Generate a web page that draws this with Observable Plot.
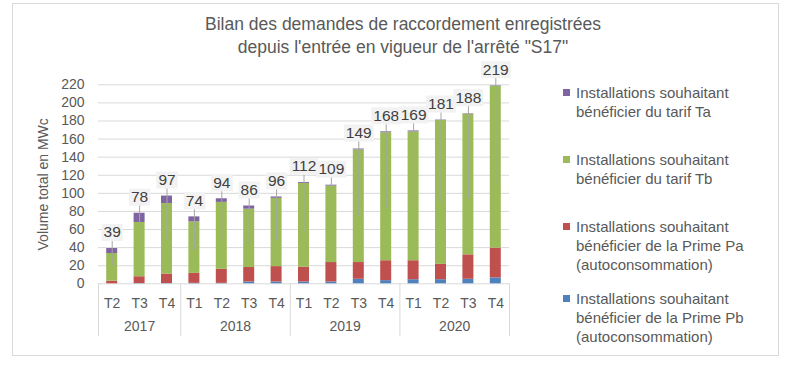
<!DOCTYPE html>
<html><head><meta charset="utf-8">
<script src="https://cdn.jsdelivr.net/npm/d3@7"></script>
<script src="https://cdn.jsdelivr.net/npm/@observablehq/plot@0.6"></script>
<style>
body{margin:0;background:#fff;font-family:"Liberation Sans",Arial,sans-serif;}
#wrap{position:relative;width:796px;height:365px;overflow:hidden;}
#border{position:absolute;left:12px;top:3px;width:765px;height:351px;border:1px solid #d9d9d9;}
#chart{position:absolute;left:0;top:0;}
#title{position:absolute;left:0;width:806px;top:13px;text-align:center;font-size:17.5px;line-height:23px;color:#595959;}
.leg{position:absolute;left:563px;font-size:15px;line-height:19px;color:#595959;white-space:nowrap;}
.leg .sw{position:absolute;left:0;top:6px;width:7px;height:7px;}
.leg .tx{margin-left:13px;}
</style></head>
<body>
<div id="wrap">
  <div id="border"></div>
  <div id="chart"></div>
  <div id="title">Bilan des demandes de raccordement enregistrées<br>depuis l'entrée en vigueur de l'arrêté "S17"</div>
  <div id="legend"></div>
</div>
<script>
// ---- data ----
const quarters = ["T2","T3","T4","T1","T2","T3","T4","T1","T2","T3","T4","T1","T2","T3","T4"];
const barYears = ["2017","2017","2017","2018","2018","2018","2018","2019","2019","2019","2019","2020","2020","2020","2020"];
const years = ["2017","2018","2019","2020"];
const totals = [39,78,97,74,94,86,96,112,109,149,168,169,181,188,219];
const primePb = [0,0.3,0.3,0.5,0.5,2,2,2,2,5,3.5,4.5,4.5,5,6.5];
const primePa = [3,7.5,10.5,11,15.5,16,17,16.5,21.5,18.5,22,21,17,27,33];
const tarifTb = [30.5,60,78,57,74,64.5,75.5,92.5,84.5,124.5,141.5,142.5,159,155.5,179];
const tarifTa = [5.5,10.2,8.2,5.5,4,3.5,1.5,1,1,1,1,1,0.5,0.5,0.5];
const yTicks = [0,20,40,60,80,100,120,140,160,180,200,220];
const yTitle = "Volume total en MWc";
const seriesKeys = ["Pb","Pa","Tb","Ta"]; // bottom to top
const seriesColors = ["#4f81bd","#c0504d","#9bbb59","#8064a2"];
const legendItems = [
  {key:"Ta", lines:["Installations souhaitant","bénéficier du tarif Ta"]},
  {key:"Tb", lines:["Installations souhaitant","bénéficier du tarif Tb"]},
  {key:"Pa", lines:["Installations souhaitant","bénéficier de la Prime Pa","(autoconsommation)"]},
  {key:"Pb", lines:["Installations souhaitant","bénéficier de la Prime Pb","(autoconsommation)"]}
];

// ---- tables ----
const seriesValues = {Pb: primePb, Pa: primePa, Tb: tarifTb, Ta: tarifTa};
const rows = [];
quarters.forEach((q, i) => {
  let acc = 0;
  for (const k of seriesKeys) {
    const v = seriesValues[k][i];
    rows.push({i, series: k, y1: acc, y2: acc + v});
    acc += v;
  }
});
const bars = totals.map((t, i) => ({i, total: t}));
const idx = quarters.map((q, i) => i);
const yearRows = years.map(y => {
  const ii = idx.filter(i => barYears[i] === y);
  return {year: y, mid: (ii[0] + ii[ii.length - 1]) / 2, start: ii[0] - 0.5, end: ii[ii.length - 1] + 0.5};
});
const bounds = [yearRows[0].start, ...yearRows.map(d => d.end)];

const FONT = '"Liberation Sans", Arial, sans-serif';
const chart = Plot.plot({
  width: 796, height: 365,
  marginLeft: 98, marginRight: 287, marginTop: 84.3, marginBottom: 81.7,
  style: {fontFamily: FONT, fontSize: "14px", color: "#595959", background: "transparent", overflow: "visible"},
  x: {type: "linear", domain: [-0.5, 14.5], ticks: idx, tickFormat: i => quarters[i], tickSize: 0, tickPadding: 14, label: null},
  y: {domain: [0, 220], ticks: yTicks, tickSize: 0, tickPadding: 14, label: yTitle, labelAnchor: "center", labelOffset: 60, labelArrow: "none"},
  color: {domain: seriesKeys, range: seriesColors},
  marks: [
    Plot.ruleY(yTicks, {stroke: "#d9d9d9", strokeWidth: 1}),
    Plot.ruleX(bounds, {x: d => d, y1: 0, y2: 0, insetBottom: -53, stroke: "#d9d9d9"}),
    Plot.rect(rows, {x1: d => d.i - 0.5, x2: d => d.i + 0.5, y1: "y1", y2: "y2", fill: "series", insetLeft: 8.2, insetRight: 8.2}),
    Plot.ruleX(bars, {x: "i", y1: "total", y2: d => d.total / 2, insetTop: -8, stroke: "#a6a6a6", strokeWidth: 1}),
    Plot.text(bars, {x: "i", y: "total", text: d => String(d.total), dy: -16, fontSize: 15.5, fill: "#404040"}),
    Plot.text(yearRows, {x: "mid", frameAnchor: "bottom", text: "year", dy: 47, fontSize: 14, fill: "#595959"})
  ]
});
document.getElementById("chart").appendChild(chart);

// label boxes behind the data labels
const textGroups = chart.querySelectorAll('g[aria-label="text"]');
if (textGroups.length) {
  const g = textGroups[0];
  g.querySelectorAll("text").forEach(t => {
    const b = t.getBBox();
    const r = document.createElementNS("http://www.w3.org/2000/svg", "rect");
    const cy = b.y + b.height / 2 + 0.5;
    r.setAttribute("x", b.x - 2);
    r.setAttribute("width", b.width + 4);
    r.setAttribute("y", cy - 8.5);
    r.setAttribute("height", 17);
    r.setAttribute("fill", "#f2f2f2");
    if (t.getAttribute("transform")) r.setAttribute("transform", t.getAttribute("transform"));
    g.insertBefore(r, t);
  });
}

// legend
const colorOf = Object.fromEntries(seriesKeys.map((k, i) => [k, seriesColors[i]]));
const legTops = [82.5, 149.5, 216.5, 288.5];
const leg = document.getElementById("legend");
legendItems.forEach((it, j) => {
  const d = document.createElement("div");
  d.className = "leg";
  d.style.top = legTops[j] + "px";
  d.innerHTML = `<span class="sw" style="background:${colorOf[it.key]}"></span><div class="tx">${it.lines.join("<br>")}</div>`;
  leg.appendChild(d);
});
</script>
</body></html>
